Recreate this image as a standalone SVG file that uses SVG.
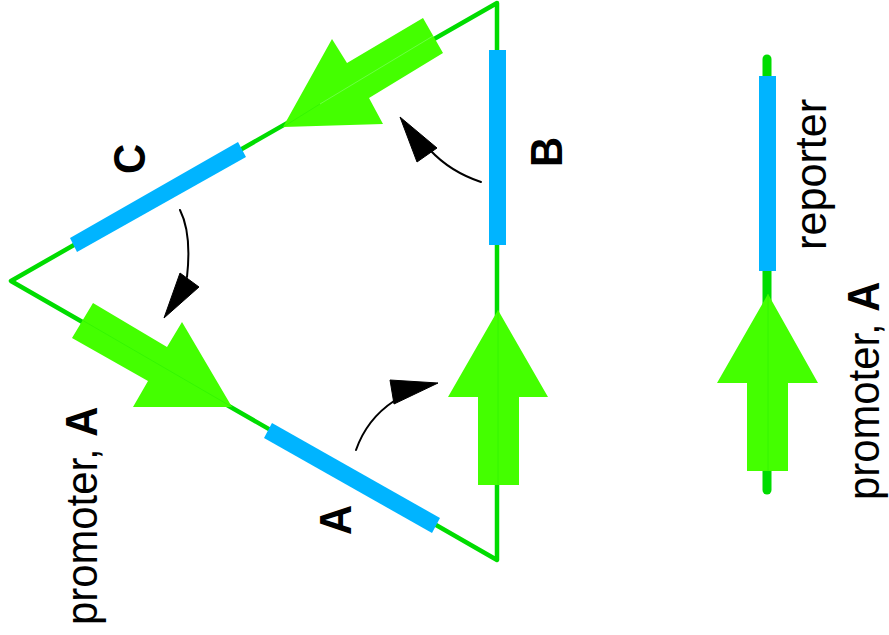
<svg xmlns="http://www.w3.org/2000/svg" width="889" height="635" viewBox="0 0 889 635">
<style>
.wire{fill:none;stroke:#00dc00;stroke-width:4.5;stroke-linejoin:round;stroke-linecap:round}
.seam{fill:none;stroke:#30f400;stroke-width:.8}
.lite{fill:none;stroke:#aaffaa;stroke-width:.4}
.prom{fill:#44ff00}
.gene{fill:#00b4ff}
.curve{fill:none;stroke:#000;stroke-width:2;stroke-linecap:round}
.head{fill:#000;stroke:#000;stroke-width:1;stroke-linejoin:round}
text{font-family:"Liberation Sans",Arial,sans-serif;font-size:45px;fill:#000}
.b{font-weight:bold}
</style>
<rect width="889" height="635" fill="#fff"/>
<g id="connectors">
<path class="wire" d="M497 3L11 281L497 560Z"/>
<path class="curve" d="M481 182C460 175 444 165 430 150"/>
<path class="head" d="M400 117L437 148L417 162Z"/>
<path class="curve" d="M180 210C189 228 190 250 187 277"/>
<path class="head" d="M164 318L180 273L199 287Z"/>
<path class="curve" d="M356 450C363 430 376 413 394 401"/>
<path class="head" d="M438 383L390 380L394 404Z"/>
</g>
<g id="promoter-a1">
<polygon class="prom" points="93,303 167,347 182,322 232,407 133,407 148,381 72,338"/>
<path class="seam" d="M82 320L232 407"/>
</g>
<g id="promoter-c">
<polygon class="prom" points="423,18 443,53 369,98 383,124 283,127 332,39 347,63"/>
<path class="lite" d="M433 36L320 104"/>
<path class="seam" d="M320 104L283 127"/>
</g>
<g id="promoter-b">
<polygon class="prom" points="498,310 548,397 519,397 519,485 478,485 478,397 448,397"/>
<path class="seam" d="M498 310V485"/>
</g>
<g id="gene-a">
<polygon class="gene" points="272,423 440,518 432,533 264,438"/>
<text class="b" transform="translate(351,535) rotate(-90) scale(.93,1)">A</text>
</g>
<g id="gene-b">
<rect class="gene" x="489" y="50" width="17" height="195"/>
<text class="b" transform="translate(562,167) rotate(-90) scale(.93,1)">B</text>
</g>
<g id="gene-c">
<polygon class="gene" points="238,142 246,157 77,252 70,238"/>
<text class="b" transform="translate(145,174) rotate(-90) scale(.93,1)">C</text>
</g>
<text transform="translate(97,625) rotate(-90) scale(.93,1)">promoter, <tspan class="b">A</tspan></text>
<g id="reporter-construct">
<path d="M767 59V490" fill="none" stroke="#00dc00" stroke-width="9" stroke-linecap="round"/>
<rect class="gene" x="759" y="76" width="17" height="195"/>
<polygon class="prom" points="768,294 818,383 788,383 788,471 747,471 747,383 717,383"/>
<path class="seam" d="M768 294V471"/>
<text transform="translate(826,250) rotate(-90) scale(.96,1)">reporter</text>
<text transform="translate(879,500) rotate(-90) scale(.93,1)">promoter, <tspan class="b">A</tspan></text>
</g>
</svg>
